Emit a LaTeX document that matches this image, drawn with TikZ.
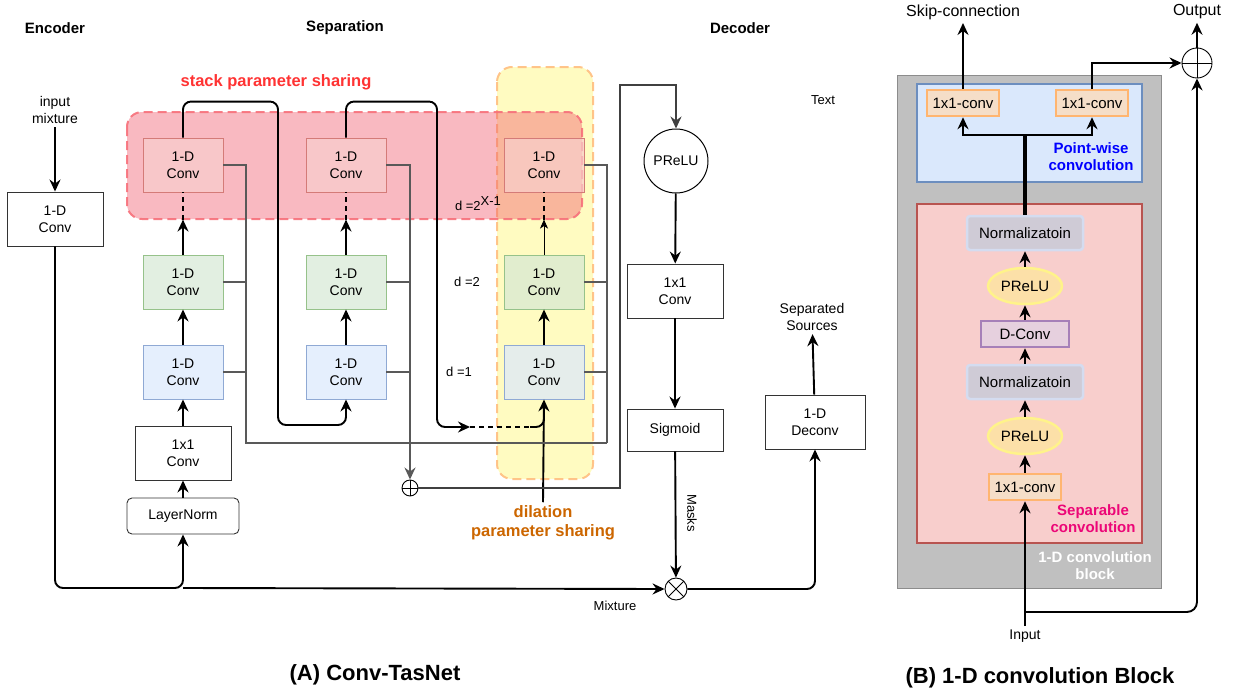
\documentclass[tikz,border=0pt]{standalone}
\usepackage{fontspec}
\setmainfont{Liberation Sans}
\usetikzlibrary{arrows.meta}
\usetikzlibrary{shapes.geometric}

\definecolor{convred}{HTML}{F8CECC}
\definecolor{convredline}{HTML}{D47B78}
\definecolor{convgreen}{HTML}{D5E8D4}
\definecolor{convgreenline}{HTML}{96C28A}
\definecolor{convblue}{HTML}{DAE8FC}
\definecolor{convblueline}{HTML}{8FA9D4}
\definecolor{stackfill}{HTML}{F05064}
\definecolor{stackline}{HTML}{F7707A}
\definecolor{dilfill}{HTML}{FFF564}
\definecolor{dilline}{HTML}{FFBE80}
\definecolor{stacktext}{HTML}{FF3333}
\definecolor{diltext}{HTML}{CC6600}
\definecolor{blockgray}{HTML}{C0C0C0}
\definecolor{pwline}{HTML}{6C8EBF}
\definecolor{sepline}{HTML}{B85450}
\definecolor{orangefill}{HTML}{F5DEC8}
\definecolor{orangeline}{HTML}{FFB570}
\definecolor{preluFill}{HTML}{FCE0A8}
\definecolor{preluLine}{HTML}{FFF38A}
\definecolor{normfill}{HTML}{CFCBD6}
\definecolor{normline}{HTML}{D4DCF0}
\definecolor{dconvfill}{HTML}{E6D0DE}
\definecolor{dconvline}{HTML}{A680B8}

\tikzset{
   flow/.style={-{Stealth[length=12pt,width=11pt,inset=4pt]}, line width=1.9pt},
   thin flow/.style={-{Stealth[length=9pt,width=8pt,inset=2.5pt]}, line width=0.9pt},
   dash link/.style={line width=1.9pt, dash pattern=on 5pt off 4pt},
   bus line/.style={draw=black!65, line width=2.1pt},
   head label/.style={font=\bfseries\fontsize{15pt}{18pt}\selectfont},
   plain label/.style={font=\fontsize{14pt}{17pt}\selectfont, align=center},
   small label/.style={font=\fontsize{13pt}{16pt}\selectfont},
   caption text/.style={font=\bfseries\fontsize{22pt}{26pt}\selectfont},
   conv box/.style={draw=black!80, line width=0.9pt, fill=white, align=center,
           minimum width=96pt, minimum height=54pt, font=\fontsize{14pt}{17pt}\selectfont},
   sep conv/.style={draw, line width=0.9pt, align=center, fill opacity=0.7, text opacity=1,
           minimum width=80pt, minimum height=54pt, font=\fontsize{14pt}{17pt}\selectfont},
   red conv/.style={sep conv, fill=convred, draw=convredline},
   green conv/.style={sep conv, fill=convgreen, draw=convgreenline},
   blue conv/.style={sep conv, fill=convblue, draw=convblueline},
   stack zone/.style={fill=stackfill, fill opacity=0.4, draw=stackline, draw opacity=0.9,
           line width=2pt, dash pattern=on 9pt off 5pt, rounded corners=15pt},
   dilation zone/.style={fill=dilfill, fill opacity=0.4, draw=dilline, draw opacity=0.9,
           line width=2pt, dash pattern=on 9pt off 5pt, rounded corners=15pt},
   adder/.style={circle, draw, line width=0.9pt, inner sep=0pt, path picture={
           \draw (path picture bounding box.north) -- (path picture bounding box.south)
                 (path picture bounding box.west) -- (path picture bounding box.east);}},
   multiplier/.style={circle, draw, line width=0.9pt, inner sep=0pt, path picture={
           \draw (path picture bounding box.north west) -- (path picture bounding box.south east)
                 (path picture bounding box.south west) -- (path picture bounding box.north east);}},
   block label/.style={font=\fontsize{15pt}{18pt}\selectfont, inner sep=0pt, line width=2.5pt},
   pw conv/.style={block label, fill=orangefill, draw=orangeline, minimum width=72pt, minimum height=26pt},
   act oval/.style={block label, ellipse, fill=preluFill, draw=preluLine, minimum width=74pt, minimum height=36pt},
   norm step/.style={block label, rounded corners=3pt, fill=normfill, draw=normline, minimum width=116pt, minimum height=34pt},
   depth conv/.style={block label, fill=dconvfill, draw=dconvline, minimum width=88pt, minimum height=26pt},
}

\begin{document}
\begin{tikzpicture}[x=1pt,y=-1pt]
  \useasboundingbox (0,0) rectangle (1233,693);

  % parameter sharing zones
  \draw[dilation zone] (497,67) rectangle (593,479);
  \draw[stack zone] (127,112) rectangle (582,219);

  \node[head label] (enc head) at (55,28) {Encoder};
  \node[head label] (sep head) at (345,28) {Separation};
  \node[head label] (dec head) at (740,28) {Decoder};
  \node[small label] (text mark) at (823,100) {Text};
  \node[head label, text=stacktext, font=\bfseries\fontsize{16.5pt}{20pt}\selectfont] (stack lbl) at (276,82) {stack parameter sharing};
  \node[head label, text=diltext, align=center, font=\bfseries\fontsize{16.5pt}{19pt}\selectfont] (dil lbl) at (543,523) {dilation\\parameter sharing};

  % encoder
  \node[plain label] (mix in) at (55,110) {input\\mixture};
  \node[conv box] (enc) at (55,219) {1-D\\Conv};

  % separation
  \node[conv box, minimum width=112pt, minimum height=36pt, rounded corners=5pt] (lnorm) at (183,516) {LayerNorm};
  \node[conv box] (bneck) at (183,453) {1x1\\Conv};
  \node[blue conv] (b1) at (183,372) {1-D\\Conv};
  \node[green conv] (g1) at (183,282) {1-D\\Conv};
  \node[red conv] (r1) at (183,165) {1-D\\Conv};
  \node[blue conv] (b2) at (346,372) {1-D\\Conv};
  \node[green conv] (g2) at (346,282) {1-D\\Conv};
  \node[red conv] (r2) at (346,165) {1-D\\Conv};
  \node[blue conv] (b3) at (544,372) {1-D\\Conv};
  \node[green conv] (g3) at (544,282) {1-D\\Conv};
  \node[red conv] (r3) at (544,165) {1-D\\Conv};
  \node[adder, minimum size=16pt] (sum) at (410,488) {};

  \node[small label] (d top) at (478,204) {d =2\raisebox{5pt}{X-1}};
  \node[small label] (d two) at (467,282) {d =2};
  \node[small label] (d one) at (459,372) {d =1};

  % decoder
  \node[circle, draw, line width=1pt, minimum size=64pt, inner sep=0pt, font=\fontsize{14pt}{17pt}\selectfont] (prelu) at (676,161) {PReLU};
  \node[conv box] (dec conv) at (675,291) {1x1\\Conv};
  \node[conv box, minimum height=42pt] (sigmoid) at (675,430) {Sigmoid};
  \node[multiplier, minimum size=22pt] (mult) at (676,589) {};
  \node[conv box, minimum width=100pt] (deconv) at (815,422) {1-D\\Deconv};
  \node[plain label] (sources) at (812,317) {Separated\\Sources};
  \node[small label, rotate=-90] (masks) at (692,513) {Masks};
  \node[small label] (mix lbl) at (615,606) {Mixture};

  \coordinate (mix) at (183,588);
  \coordinate (loop one) at (278,425);
  \coordinate (loop two) at (437,427);
  \coordinate (dil in) at (470,427);
  \coordinate (dil out) at (530,427);
  \coordinate (bus one) at (246,443);
  \coordinate (bus three) at (607,443);
  \coordinate (feed top) at (620,85);

  \draw[flow] (mix in) -- (enc);
  \draw[flow, rounded corners=8pt] (enc.south) |- (mix) -- (lnorm.south);
  \draw[flow] (mix) -- (mult.west);

  \draw[flow] (lnorm) -- (bneck);
  \draw[flow] (bneck) -- (b1);
  \draw[flow] (b1) -- (g1);
  \draw[flow] (g1.north) -- ++(0,-35) coordinate (g1 top);
  \draw[dash link] (g1 top) -- (r1.south);
  \draw[flow] (b2) -- (g2);
  \draw[flow] (g2.north) -- ++(0,-35) coordinate (g2 top);
  \draw[dash link] (g2 top) -- (r2.south);
  \draw[flow] (b3) -- (g3);
  \draw[thin flow] (g3.north) -- ++(0,-35) coordinate (g3 top);
  \draw[dash link] (g3 top) -- (r3.south);

  \draw[flow, rounded corners=8pt] (r1.north) -- ++(0,-36) -| (loop one) -| (b2.south);
  \draw[flow, rounded corners=8pt] (r2.north) -- ++(0,-36) -| (loop two) -- (dil in);
  \draw[dash link] (dil in) -- (dil out);
  \draw[line width=1.9pt, rounded corners=8pt] (dil out) -| (544,410);
  \draw[flow] (dil lbl.north) -- (b3.south);

  % skip outputs
  \draw[bus line] (r1.east) -| (bus one) -- (bus three);
  \draw[bus line] (g1.east) -- (g1.east -| bus one);
  \draw[bus line] (b1.east) -- (b1.east -| bus one);
  \draw[bus line] (r3.east) -| (bus three);
  \draw[bus line] (g3.east) -- (g3.east -| bus three);
  \draw[bus line] (b3.east) -- (b3.east -| bus three);
  \draw[bus line, -{Stealth[length=12pt,width=11pt,inset=4pt]}] (r2.east) -| (sum.north);
  \draw[bus line] (g2.east) -- (g2.east -| sum.north);
  \draw[bus line] (b2.east) -- (b2.east -| sum.north);
  \draw[bus line, draw=black!75, -{Stealth[length=12pt,width=11pt,inset=4pt]}] (sum.east) -| (feed top) -| (prelu.north);

  \draw[flow] (prelu) -- (dec conv);
  \draw[flow] (dec conv) -- (sigmoid);
  \draw[flow] (sigmoid) -- (mult);
  \draw[flow, rounded corners=8pt] (mult.east) -| (deconv.south);
  \draw[flow] (deconv) -- (sources);

  % 1-D convolution block
  \draw[fill=blockgray, draw=black!45, line width=0.8pt] (897,75) rectangle (1161,588);
  \draw[fill=convblue, draw=pwline, line width=2.5pt] (917,84) rectangle (1142,182);
  \draw[fill=convred, draw=sepline, line width=2.5pt] (917,204) rectangle (1142,543);
  \node[align=center, text=blue, font=\bfseries\fontsize{15pt}{17pt}\selectfont] (pw lbl) at (1091,157) {Point-wise\\convolution};
  \node[align=center, text=magenta!80!red, font=\bfseries\fontsize{15pt}{17pt}\selectfont] (sep lbl) at (1093,519) {Separable\\convolution};
  \node[align=center, text=white, font=\bfseries\fontsize{15pt}{17pt}\selectfont] (blk lbl) at (1095,566) {1-D convolution\\block};

  \node[pw conv] (skip conv) at (963,103) {1x1-conv};
  \node[pw conv] (res conv) at (1092,103) {1x1-conv};
  \node[norm step] (norm top) at (1025,233) {Normalizatoin};
  \node[act oval] (prelu top) at (1025,286) {PReLU};
  \node[depth conv] (dconv) at (1025,334) {D-Conv};
  \node[norm step] (norm bot) at (1025,382) {Normalizatoin};
  \node[act oval] (prelu bot) at (1025,436) {PReLU};
  \node[pw conv] (conv in) at (1025,487) {1x1-conv};
  \node[adder, minimum size=30pt] (out sum) at (1197,63) {};
  \node[font=\fontsize{16pt}{19pt}\selectfont] (skip lbl) at (963,12) {Skip-connection};
  \node[font=\fontsize{16pt}{19pt}\selectfont] (out lbl) at (1197,12) {Output};
  \node[small label, font=\fontsize{14pt}{17pt}\selectfont] (in lbl) at (1025,636) {Input};

  \coordinate (split) at (1025,135);
  \coordinate (res split) at (1025,612);

  \draw[flow] (in lbl.north) -- (conv in.south);
  \draw[flow, rounded corners=10pt] (res split) -| (out sum.south);
  \draw[flow] (conv in) -- (prelu bot);
  \draw[flow] (prelu bot) -- (norm bot);
  \draw[flow] (norm bot) -- (dconv);
  \draw[flow] (dconv) -- (prelu top);
  \draw[flow] (prelu top) -- (norm top);
  \draw[line width=3.5pt] (norm top.north) -- (split);
  \draw[flow] (split) -| (skip conv.south);
  \draw[flow] (split) -| (res conv.south);
  \draw[flow] (skip conv) -- (skip lbl);
  \draw[flow] (res conv.north) |- (out sum.west);
  \draw[flow] (out sum) -- (out lbl);

  \node[caption text] (cap a) at (375,675) {(A) Conv-TasNet};
  \node[caption text] (cap b) at (1040,678) {(B) 1-D convolution Block};
\end{tikzpicture}
\end{document}
